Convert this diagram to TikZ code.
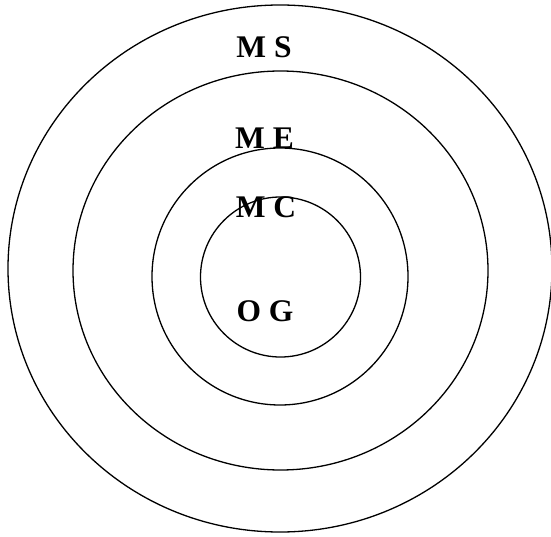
\documentclass[tikz,border=0pt]{standalone}
\usepackage{fontspec}
\setmainfont{Liberation Serif}
\begin{document}
\begin{tikzpicture}[x=1pt, y=-1pt, line width=1.3pt,
    ringlabel/.style={anchor=base, inner sep=0pt,
        font=\fontsize{31.5}{36}\selectfont\bfseries}]
    \useasboundingbox (0,0) rectangle (551,537);

    % Rings, outer to inner
    \draw (280,268.5) ellipse (272 and 263.5);
    \draw (280.5,270.5) ellipse (207.5 and 199.5);
    \draw (280,276.5) ellipse (128 and 128.5);
    \draw (280.5,277) circle (80);

    % Labels
    \node[ringlabel] (ms) at (264,58) {M S};
    \node[ringlabel] (me) at (264.5,149) {M E};
    \node[ringlabel] (mc) at (266,218) {M C};
    \node[ringlabel] (og) at (265,321.5) {O G};
\end{tikzpicture}
\end{document}
